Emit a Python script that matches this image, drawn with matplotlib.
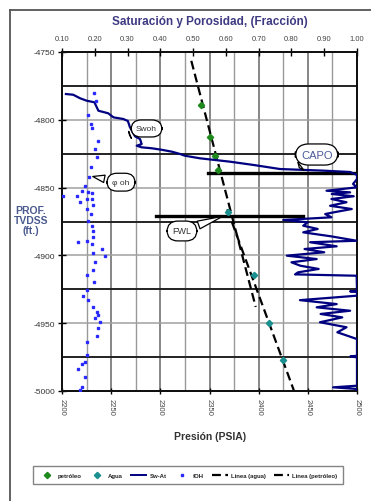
import matplotlib
matplotlib.use("Agg")
import matplotlib.pyplot as plt
from matplotlib.ticker import MultipleLocator, FixedLocator, FixedFormatter
from matplotlib.lines import Line2D
import numpy as np

plt.rcParams['font.family'] = ['Liberation Sans', 'DejaVu Sans']
plt.rcParams['axes.unicode_minus'] = False

# ---------------- data ----------------
oil_pressure = [2341, 2351, 2356, 2359]
oil_depth = [-4789, -4813, -4826.5, -4837]
water_pressure = [2369, 2395.5, 2411, 2425]
water_depth = [-4868, -4914.5, -4950, -4977]

oil_line_pressure = [2331.5, 2397]
oil_line_depth = [-4756.5, -4938]
water_line_pressure = [2368, 2436]
water_line_depth = [-4866, -5000]

capo_depth = -4839
capo_pressure_range = [2348, 2500]
fwl_depth = -4871
fwl_pressure_range = [2296, 2445]

sw_depth = [-4781.0, -4781.5, -4784.1, -4785.9, -4787.1, -4793.3, -4795.2, -4798.2,
            -4799.4, -4800.9, -4805.3, -4809.7, -4812.2, -4814.2, -4817.9, -4819.1,
            -4820.3, -4821.0, -4822.1, -4823.5, -4825.2, -4826.5, -4828.4, -4830.9,
            -4833.3, -4836.3, -4837.5, -4838.5, -4840.7, -4843.7, -4847.3, -4849.8,
            -4852.3, -4853.5, -4854.7, -4856.4, -4858.4, -4860.8, -4863.4, -4865.8,
            -4868.2, -4869.5, -4871.9, -4873.9, -4875.6, -4878.1, -4880.5, -4883.0,
            -4885.9, -4889.2, -4890.3, -4893.3, -4895.3, -4897.7, -4900.2, -4902.7,
            -4905.1, -4907.6, -4910.0, -4912.5, -4914.0, -4915.0, -4926.0, -4926.5,
            -4927.0, -4929.7, -4933.0, -4935.9, -4938.3, -4940.8, -4943.2, -4945.7,
            -4949.3, -4953.0, -4956.7, -4961.7, -4974.0, -4974.5, -4975.2, -4996.1,
            -4997.3, -4998.5, -5000.0]
sw_value = [0.112, 0.134, 0.155, 0.175, 0.199, 0.211, 0.241, 0.257,
            0.287, 0.301, 0.307, 0.317, 0.323, 0.338, 0.343, 0.328,
            0.343, 0.374, 0.404, 0.435, 0.460, 0.475, 0.521, 0.613,
            0.684, 0.765, 0.897, 0.979, 1.000, 1.000, 0.988, 1.000,
            0.907, 0.979, 0.923, 0.990, 0.922, 0.968, 0.918, 0.984,
            0.930, 0.903, 0.922, 0.775, 0.850, 0.836, 0.880, 0.836,
            0.920, 0.999, 0.857, 0.938, 0.840, 0.900, 0.786, 0.877,
            0.800, 0.827, 0.883, 0.820, 0.811, 0.999, 1.000, 0.979,
            1.000, 1.000, 0.826, 0.938, 0.877, 0.979, 0.889, 0.955,
            0.887, 0.968, 0.940, 1.000, 1.000, 0.980, 1.000, 1.000,
            0.927, 1.000, 1.000]

phi_depth = [-4780.5, -4785.9, -4796.5, -4803.1, -4806.3, -4815.4, -4821.5, -4827.7,
             -4835.0, -4842.4, -4848.6, -4852.3, -4853.5, -4853.8, -4856.0, -4856.0,
             -4858.4, -4860.8, -4858.4, -4862.8, -4865.8, -4869.5, -4874.4, -4878.1,
             -4881.8, -4886.7, -4889.2, -4889.8, -4891.6, -4895.3, -4898.2, -4900.8,
             -4905.1, -4910.6, -4914.5, -4919.4, -4925.5, -4929.7, -4932.9, -4938.3,
             -4941.5, -4944.0, -4946.4, -4949.3, -4953.8, -4959.2, -4964.1, -4973.5,
             -4978.4, -4980.1, -4983.8, -4989.9, -4997.3, -4999.5]
phi_value = [0.199, 0.203, 0.180, 0.188, 0.192, 0.211, 0.201, 0.206,
             0.188, 0.183, 0.170, 0.160, 0.180, 0.190, 0.145, 0.104,
             0.175, 0.155, 0.191, 0.195, 0.177, 0.188, 0.180, 0.191,
             0.195, 0.195, 0.175, 0.150, 0.192, 0.221, 0.195, 0.231,
             0.201, 0.195, 0.175, 0.197, 0.177, 0.165, 0.180, 0.195,
             0.206, 0.211, 0.201, 0.216, 0.211, 0.206, 0.177, 0.175,
             0.170, 0.160, 0.148, 0.170, 0.160, 0.155]

pressure_ticks = [2200, 2250, 2300, 2350, 2400, 2450, 2500]
depth_ticks = [-4750, -4800, -4850, -4900, -4950, -5000]
fraction_ticks = [0.10, 0.20, 0.30, 0.40, 0.50, 0.60, 0.70, 0.80, 0.90, 1.00]

legend_labels = ["petróleo", "Agua", "Sw-At", "fOH", "Linea (agua)", "Linea (petróleo)"]

# ---------------- figure ----------------
W, H = 371, 502
fig = plt.figure(figsize=(W / 100, H / 100), dpi=100)
fig.patch.set_facecolor('white')

# outer frame
fig.add_artist(Line2D([10 / W, 10 / W], [0, 1 - 11 / H], transform=fig.transFigure,
                      color='#555555', lw=1.3))
fig.add_artist(Line2D([10 / W, 1], [1 - 11 / H, 1 - 11 / H], transform=fig.transFigure,
                      color='#555555', lw=1.3))

left, right, top, bottom = 62, 357, 53, 392
ax = fig.add_axes([left / W, 1 - bottom / H, (right - left) / W, (bottom - top) / H])
ax.set_xlim(2200, 2500)
ax.set_ylim(-5000, -4750)

# grids
ax.xaxis.set_major_locator(FixedLocator(pressure_ticks))
ax.xaxis.set_minor_locator(MultipleLocator(25))
ax.yaxis.set_major_locator(FixedLocator(depth_ticks))
ax.yaxis.set_minor_locator(MultipleLocator(25))
ax.grid(which='major', axis='x', color='#666666', lw=1.1)
ax.grid(which='minor', axis='x', color='#999999', lw=1.0)
ax.grid(which='major', axis='y', color='#a0a0a0', lw=1.1)
ax.grid(which='minor', axis='y', color='#222222', lw=1.4)
ax.set_axisbelow(True)
ax.tick_params(which='minor', length=0)
ax.tick_params(axis='x', which='major', direction='inout', length=4, width=1,
               labelsize=5.5, labelrotation=-90, labelcolor='#444444', pad=3)
ax.tick_params(axis='y', which='major', direction='inout', length=6, width=1,
               labelsize=6, labelcolor='#333333', pad=2)
ax.yaxis.set_major_formatter(FixedFormatter([f"{v:.0f}" for v in depth_ticks]))
for s in ax.spines.values():
    s.set_linewidth(1.4)
    s.set_color('#111111')

# contacts
ax.plot(capo_pressure_range, [capo_depth, capo_depth], color='black', lw=2.4, zorder=3)
ax.plot(fwl_pressure_range, [fwl_depth, fwl_depth], color='black', lw=2.4, zorder=3)

# gradient lines
ax.plot(oil_line_pressure, oil_line_depth, color='black', lw=1.6, ls=(0, (4, 2)), zorder=4)
ax.plot(water_line_pressure, water_line_depth, color='black', lw=1.6, ls=(0, (4, 2)), zorder=4)
ax.plot(oil_pressure, oil_depth, ls='none', marker='D', ms=3.2, color='#1e8a1e', zorder=5)
ax.plot(water_pressure, water_depth, ls='none', marker='D', ms=3.2, color='#1a9090', zorder=5)

# twin for saturation/porosity
ax2 = ax.twiny()
ax2.set_xlim(0.10, 1.00)
ax2.set_ylim(-5000, -4750)
ax2.plot(sw_value, sw_depth, color='#000080', lw=1.6, zorder=3)
ax2.plot(phi_value, phi_depth, ls='none', marker='s', ms=1.6, color='#2a2aff', zorder=3)
ax2.xaxis.set_major_locator(FixedLocator(fraction_ticks))
ax2.xaxis.set_major_formatter(FixedFormatter([f"{v:.2f}" for v in fraction_ticks]))
ax2.tick_params(axis='x', direction='inout', length=6, width=1, labelsize=5.5,
                labelcolor='#444444', pad=4)
for s in ax2.spines.values():
    s.set_linewidth(1.4)
    s.set_color('#111111')

# call-outs
def bubble(text, tip, center, fs, color, pad):
    ax2.annotate(text, xy=tip, xytext=center, xycoords=ax.transData,
                 textcoords=ax.transData, ha='center', va='center', fontsize=fs,
                 color=color, zorder=10,
                 bbox=dict(boxstyle=f'round,pad={pad},rounding_size=1.2', fc='white',
                           ec='black', lw=0.9),
                 arrowprops=dict(arrowstyle='wedge,tail_width=0.9,shrink_factor=0.5',
                                 fc='white', ec='black', lw=0.9))

bubble('Swoh', (2266, -4812), (2286, -4806.4), 6, '#333333', 0.6)
bubble('φ oh', (2228.5, -4841.4), (2260, -4846), 6, '#333333', 0.65)
bubble('CAPO', (2439, -4836.5), (2459, -4825.6), 8, '#4a5a9a', 0.5)
bubble('FWL', (2366, -4870.5), (2322, -4882), 6.5, '#333333', 0.6)

# texts
fig.text(210 / W, 1 - 22 / H, 'Saturación y Porosidad, (Fracción)', ha='center', va='center',
         fontsize=8.5, fontweight='bold', color='#3e3a82')
fig.text(31 / W, 1 - 221 / H, 'PROF.\nTVDSS\n(ft.)', ha='center', va='center',
         fontsize=7.5, fontweight='bold', color='#4a5a8e', linespacing=1.05)
fig.text(210 / W, 1 - 437 / H, 'Presión (PSIA)', ha='center', va='center',
         fontsize=7.5, fontweight='bold', color='#333333')

# legend
handles = [
    Line2D([], [], ls='none', marker='D', ms=3.2, color='#1e8a1e'),
    Line2D([], [], ls='none', marker='D', ms=3.2, color='#1a9090'),
    Line2D([], [], color='#000080', lw=1.4),
    Line2D([], [], ls='none', marker='s', ms=1.6, color='#2a2aff'),
    Line2D([], [], color='black', lw=1.6, ls=(0, (4, 2))),
    Line2D([], [], color='black', lw=1.6, ls=(0, (4, 2))),
]
leg = fig.legend(handles, legend_labels, loc='center', bbox_to_anchor=(188 / W, 1 - 476 / H),
                 ncol=6, fontsize=4.3, frameon=True, fancybox=False, edgecolor='#666666',
                 handlelength=2.6, columnspacing=1.35, handletextpad=0.5, borderpad=1.0,
                 numpoints=1)
leg.get_frame().set_linewidth(1.0)
for t in leg.get_texts():
    t.set_fontweight('bold')
    t.set_color('#222222')

fig.savefig('out.png', dpi=100)
